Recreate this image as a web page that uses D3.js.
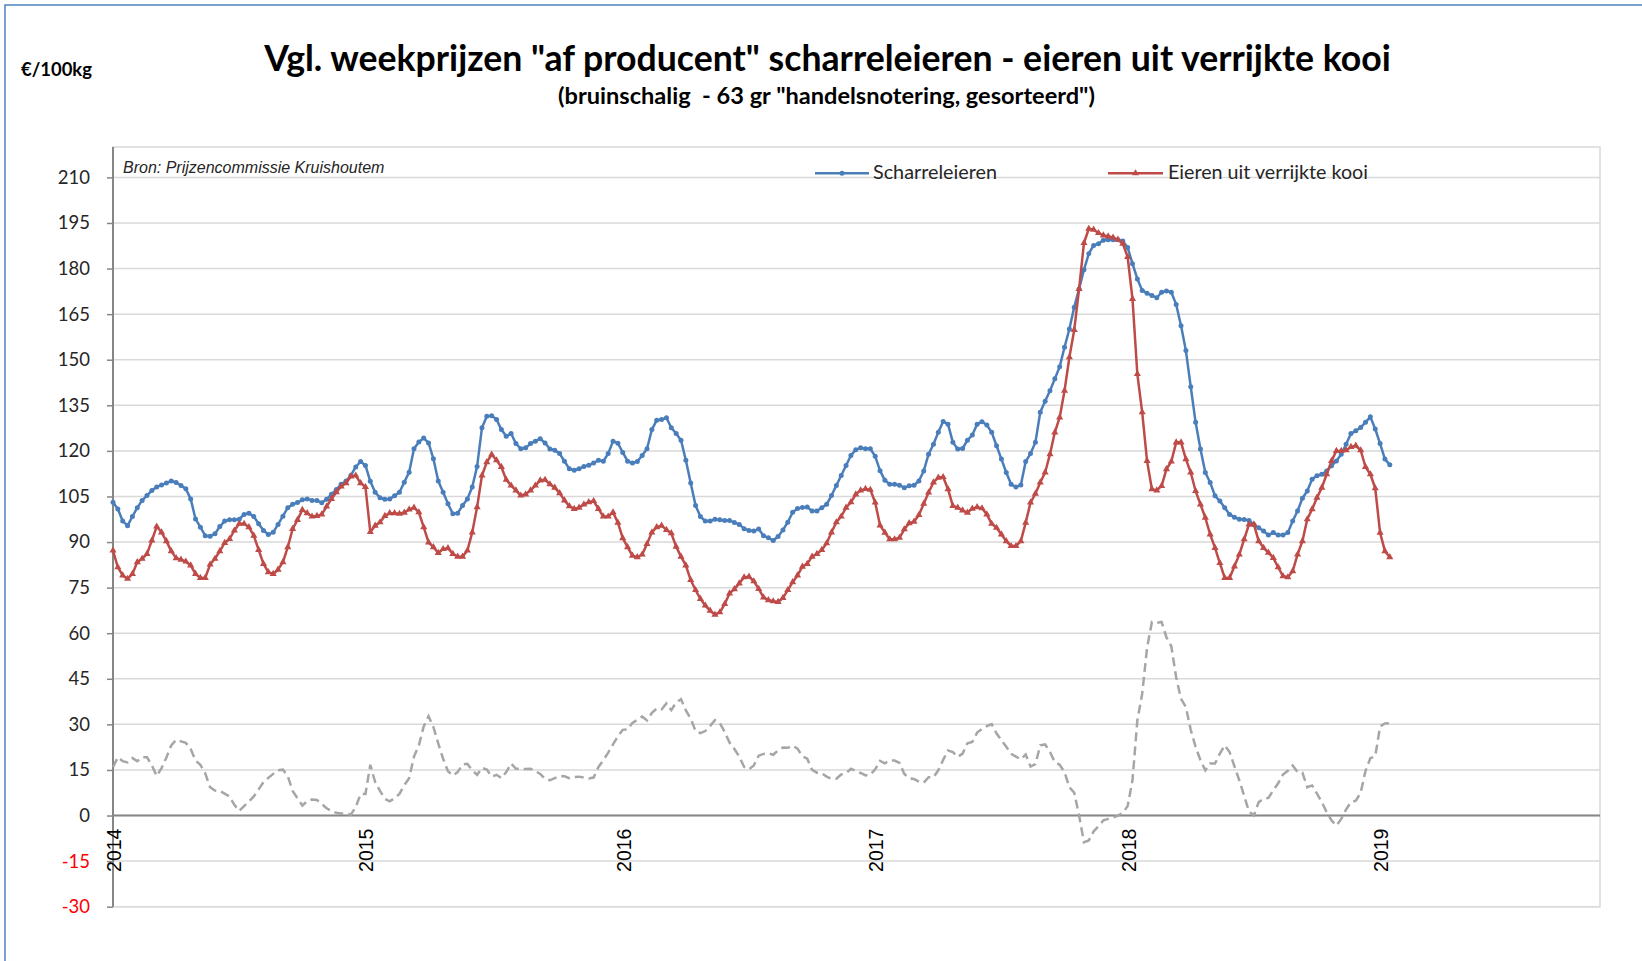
<!DOCTYPE html>
<html>
<head>
<meta charset="utf-8">
<script src="https://cdn.jsdelivr.net/npm/d3@7"></script>
<style>
  body { margin: 0; background: #fff; }
  svg { display: block; }
</style>
</head>
<body>
<svg></svg>
<script>
const width = 1642,
      height = 961

// x axis: one category per week, labelled at the first week of each year
const years = ["2014", "2015", "2016", "2017", "2018", "2019"]
const weeksPerYear = [52, 53, 52, 52, 52]
const yTicks = [-30, -15, 0, 15, 30, 45, 60, 75, 90, 105, 120, 135, 150, 165, 180, 195, 210]

// weekly prices, 2014 week 1 .. 2019 week 3 (EUR/100kg)
const scharrel = [103.1,100.9,96.9,95.4,98.4,101.3,103.7,105.3,107.0,108.1,
  108.8,109.4,110.1,109.6,108.6,107.5,104.2,97.6,94.9,92.1,
  91.9,92.7,95.1,96.9,97.3,97.3,97.5,99.1,99.5,98.4,
  96.0,93.8,92.5,93.2,95.8,98.5,101.3,102.4,103.0,103.9,
  104.2,103.7,103.7,102.9,104.1,105.7,107.3,109.0,110.1,111.9,
  114.7,116.5,115.2,110.0,106.4,104.6,104.1,104.2,105.2,106.4,
  109.7,113.0,120.7,122.9,124.2,122.6,117.4,110.1,106.4,102.6,
  99.3,99.5,102.0,104.2,108.1,114.9,127.6,131.4,131.6,130.3,
  127.0,124.8,125.7,122.4,120.7,121.0,122.4,123.2,124.0,122.6,
  120.6,120.2,119.1,116.6,114.1,113.6,114.1,114.9,115.3,116.0,
  116.9,116.6,119.1,123.2,122.5,119.5,116.6,116.0,116.5,118.5,
  120.7,127.0,130.1,130.3,130.9,127.6,125.7,123.5,116.9,109.4,
  102.0,98.4,96.9,96.9,97.5,97.3,97.1,97.1,96.4,95.8,
  94.4,93.8,93.6,94.3,92.1,91.4,90.5,91.8,94.0,96.5,
  99.8,101.0,101.4,101.5,100.2,100.2,101.3,102.4,105.3,108.6,
  111.9,115.2,118.5,120.4,121.0,120.7,120.7,118.2,113.5,110.3,
  109.0,109.0,108.7,107.9,108.5,108.7,110.1,113.4,118.9,122.2,
  126.1,129.7,128.8,122.8,120.6,120.8,123.5,125.2,128.8,129.6,
  128.5,126.1,121.7,117.3,112.9,109.0,108.1,108.8,116.5,119.1,
  122.8,132.7,136.3,139.8,143.7,147.7,154.1,160.1,167.3,173.3,
  179.6,184.9,187.6,188.2,189.3,189.5,189.5,189.5,189.1,186.9,
  181.6,176.6,172.8,171.9,171.1,170.4,172.2,172.6,172.2,168.2,
  161.2,153.0,141.1,129.4,120.6,112.9,109.6,105.2,103.5,101.3,
  99.1,98.2,97.5,97.4,97.1,95.8,94.7,93.6,92.3,93.1,
  92.3,92.3,93.1,96.9,100.2,104.4,106.8,110.7,111.8,112.3,
  113.4,115.1,116.7,118.9,122.2,125.7,126.6,127.7,129.4,131.2,
  127.2,122.4,117.3,115.4]

const kooi = [87.2,81.7,79.0,77.9,79.5,83.4,84.5,86.1,90.5,95.1,
  93.2,90.3,87.0,84.7,84.2,83.6,82.3,79.5,78.2,78.2,
  82.6,84.5,87.0,89.7,91.0,93.8,96.0,96.0,94.9,92.1,
  87.4,82.8,80.1,79.5,80.9,83.4,88.3,94.3,97.3,100.6,
  99.5,98.4,98.6,99.1,101.7,104.2,106.4,108.3,109.4,111.6,
  111.9,109.4,108.1,93.3,95.4,96.5,98.6,99.5,99.5,99.3,
  99.7,100.7,101.3,99.8,94.9,89.9,88.3,86.4,87.7,88.0,
  86.1,85.2,85.2,87.2,93.2,101.5,111.9,116.3,118.8,116.9,
  114.7,110.5,108.6,107.0,105.3,105.7,107.0,108.6,110.3,110.5,
  109.0,107.9,106.1,103.7,101.8,100.9,101.3,102.4,103.1,103.5,
  100.9,98.4,98.4,99.8,96.4,91.3,88.3,85.5,85.0,85.9,
  89.4,93.2,94.9,95.4,94.0,92.9,88.5,85.2,82.3,77.5,
  74.2,71.3,69.1,67.4,66.1,66.9,69.6,73.1,74.5,76.4,
  78.4,78.6,77.1,74.6,71.8,70.9,70.5,70.3,71.6,74.2,
  76.8,79.0,81.9,82.8,85.2,86.1,87.4,89.6,93.2,96.5,
  98.4,101.3,103.1,105.7,107.0,107.5,107.2,103.0,95.5,93.1,
  90.9,90.9,91.4,94.2,96.2,96.7,98.9,102.6,106.3,109.6,
  111.2,111.4,107.4,101.9,101.3,100.4,99.7,101.0,101.5,101.1,
  99.1,96.0,94.7,92.5,90.3,88.7,88.7,90.3,96.4,103.0,
  105.9,109.6,112.9,118.9,126.1,131.0,139.8,150.8,159.8,173.3,
  188.4,193.1,192.8,191.7,190.9,190.6,190.2,189.5,188.2,183.8,
  170.0,145.3,132.7,116.7,107.4,107.0,108.5,114.0,116.5,122.8,
  122.8,117.3,112.9,106.8,102.4,98.0,92.5,88.1,83.1,78.2,
  78.2,82.0,85.9,90.9,95.8,95.8,90.3,88.1,86.5,84.8,
  81.7,78.8,78.4,80.4,85.9,90.3,97.5,100.8,104.6,107.9,
  112.3,116.7,120.0,120.0,120.2,121.3,121.7,120.2,114.7,112.3,
  107.7,93.1,87.0,85.0]

// grey dashed line: price gap between the two
const verschil = [15.9,19.2,17.9,17.5,18.9,17.9,19.2,19.2,16.5,13.0,
  15.6,19.1,23.1,24.9,24.4,23.9,21.9,18.1,16.7,13.9,
  9.3,8.2,8.1,7.2,6.3,3.5,1.5,3.1,4.6,6.3,
  8.6,11.0,12.4,13.7,14.9,15.1,13.0,8.1,5.7,3.3,
  4.7,5.3,5.1,3.8,2.4,1.5,0.9,0.7,0.7,0.3,
  2.8,7.1,7.1,16.7,11.0,8.1,5.5,4.7,5.7,7.1,
  10.0,12.3,19.4,23.1,29.3,32.7,29.1,23.7,18.7,14.6,
  13.2,14.3,16.8,17.0,14.9,13.4,15.7,15.1,12.8,13.4,
  12.3,14.3,17.1,15.4,15.4,15.3,15.4,14.6,13.7,12.1,
  11.6,12.3,13.0,12.9,12.3,12.7,12.8,12.5,12.2,12.5,
  16.0,18.2,20.7,23.4,26.1,28.2,28.3,30.5,31.5,32.6,
  31.3,33.8,35.2,34.9,36.9,34.7,37.2,38.3,34.6,31.9,
  27.8,27.1,27.8,29.5,31.4,30.4,27.5,24.0,21.9,19.4,
  16.0,15.2,16.5,19.7,20.3,20.5,20.0,21.5,22.4,22.3,
  23.0,22.0,19.5,18.7,15.0,14.1,13.9,12.8,12.1,12.1,
  13.5,13.9,15.4,14.7,14.0,13.2,13.5,15.2,18.0,17.2,
  18.1,18.1,17.3,13.7,12.3,12.0,11.2,10.8,12.6,12.6,
  14.9,18.3,21.4,20.9,19.3,20.4,23.8,24.2,27.3,28.5,
  29.4,30.1,27.0,24.8,22.6,20.3,19.4,18.5,20.1,16.1,
  16.9,23.1,23.4,20.9,17.6,16.7,14.3,9.3,7.5,0.0,
  -8.8,-8.2,-5.2,-3.5,-1.6,-1.1,-0.7,0.0,0.9,3.1,
  11.6,31.3,40.1,55.2,63.7,63.4,63.7,58.6,55.7,45.4,
  38.4,35.7,28.2,22.6,18.2,14.9,17.1,17.1,20.4,23.1,
  20.9,16.2,11.6,6.5,1.3,0.0,4.4,5.5,5.8,8.3,
  10.6,13.5,14.7,16.5,14.3,14.1,9.3,9.9,7.2,4.4,
  1.1,-1.6,-3.3,-1.1,2.0,4.4,4.9,7.5,14.7,18.9,
  19.5,29.3,30.3,30.4]

const blue = "#4A7EBB",
      red = "#BE4B48",
      grey = "#A6A6A6",
      axisGrey = "#868686",
      gridGrey = "#D9D9D9"

const plot = {left: 113, right: 1600, top: 147, bottom: 906.7}

const svg = d3.select("svg")
  .attr("width", width)
  .attr("height", height)

// first week index of each year
const yearStart = d3.cumsum([0].concat(weeksPerYear))

const x = d3.scaleLinear()
  .domain([0, 306.3])
  .range([plot.left, plot.right])

const y = d3.scaleLinear()
  .domain([-30, 220])
  .range([plot.bottom, plot.top])

// frame of the chart
svg.append("path")
  .attr("d", `M5,${height} V5 H${width}`)
  .attr("fill", "none")
  .attr("stroke", "#4F81BD")
  .attr("stroke-width", 1.5)

// plot area border
svg.append("rect")
  .attr("x", plot.left)
  .attr("y", plot.top)
  .attr("width", plot.right - plot.left)
  .attr("height", plot.bottom - plot.top)
  .attr("fill", "none")
  .attr("stroke", gridGrey)
  .attr("stroke-width", 1.5)

// gridlines
svg.append("g")
  .selectAll("line")
  .data(yTicks)
  .join("line")
    .attr("x1", plot.left)
    .attr("x2", plot.right)
    .attr("y1", d => y(d))
    .attr("y2", d => y(d))
    .attr("stroke", gridGrey)
    .attr("stroke-width", 1.5)

// y axis
const yAxis = svg.append("g")
  .attr("transform", `translate(${plot.left},0)`)
  .call(d3.axisLeft(y).tickValues(yTicks).tickSize(6).tickPadding(17).tickFormat(d => String(d)))

yAxis.select(".domain")
  .attr("stroke", axisGrey)
  .attr("stroke-width", 2)
  .attr("d", `M0,${plot.top}V${plot.bottom}`)
yAxis.selectAll(".tick line")
  .attr("stroke", axisGrey)
  .attr("stroke-width", 1.5)
yAxis.selectAll(".tick text")
  .attr("font-family", "Lato, 'Open Sans', sans-serif")
  .attr("font-size", 18.5)
  .attr("fill", d => d < 0 ? "#FF0000" : "#262626")

// x axis crosses at 0
svg.append("line")
  .attr("x1", plot.left)
  .attr("x2", plot.right)
  .attr("y1", y(0))
  .attr("y2", y(0))
  .attr("stroke", axisGrey)
  .attr("stroke-width", 2)

svg.append("g")
  .selectAll("text")
  .data(years)
  .join("text")
    .attr("transform", (d, i) => `translate(${x(yearStart[i]) + 8},${y(0) + 13}) rotate(-90)`)
    .attr("text-anchor", "end")
    .attr("font-family", "'Liberation Sans', Arial, sans-serif")
    .attr("font-size", 19.5)
    .attr("fill", "#000")
    .text(d => d)

// series
const line = d3.line()
  .x((d, i) => x(i))
  .y(d => y(d))

svg.append("path")
  .datum(verschil)
  .attr("d", line)
  .attr("fill", "none")
  .attr("stroke", grey)
  .attr("stroke-width", 2.5)
  .attr("stroke-dasharray", "9,5")

svg.append("path")
  .datum(scharrel)
  .attr("d", line)
  .attr("fill", "none")
  .attr("stroke", blue)
  .attr("stroke-width", 2.5)
  .attr("stroke-linejoin", "round")

svg.append("g")
  .selectAll("circle")
  .data(scharrel)
  .join("circle")
    .attr("cx", (d, i) => x(i))
    .attr("cy", d => y(d))
    .attr("r", 2.5)
    .attr("fill", blue)

svg.append("path")
  .datum(kooi)
  .attr("d", line)
  .attr("fill", "none")
  .attr("stroke", red)
  .attr("stroke-width", 2.5)
  .attr("stroke-linejoin", "round")

const tri = d3.symbol(d3.symbolTriangle, 22)
svg.append("g")
  .selectAll("path")
  .data(kooi)
  .join("path")
    .attr("d", tri)
    .attr("transform", (d, i) => `translate(${x(i)},${y(d)})`)
    .attr("fill", red)

// texts
function fitText (sel, target) {
  const w = sel.node().getComputedTextLength()
  sel.attr("font-size", parseFloat(sel.attr("font-size")) * target / w)
  return sel
}

fitText(svg.append("text")
  .attr("x", 827.5)
  .attr("y", 71)
  .attr("text-anchor", "middle")
  .attr("font-family", "Lato, 'Open Sans', sans-serif")
  .attr("font-weight", "bold")
  .attr("font-size", 34)
  .attr("fill", "#000")
  .text('Vgl. weekprijzen "af producent" scharreleieren - eieren uit verrijkte kooi'), 1127)

fitText(svg.append("text")
  .attr("x", 826.5)
  .attr("y", 104)
  .attr("text-anchor", "middle")
  .attr("font-family", "Lato, 'Open Sans', sans-serif")
  .attr("font-weight", "bold")
  .attr("font-size", 20)
  .attr("fill", "#000")
  .attr("xml:space", "preserve")
  .text('(bruinschalig  - 63 gr "handelsnotering, gesorteerd")'), 537)

fitText(svg.append("text")
  .attr("x", 21)
  .attr("y", 76)
  .attr("font-family", "Lato, 'Open Sans', sans-serif")
  .attr("font-weight", "bold")
  .attr("font-size", 16)
  .attr("fill", "#000")
  .text("€/100kg"), 71)

svg.append("text")
  .attr("x", 123)
  .attr("y", 172.5)
  .attr("font-family", "'Liberation Sans', Arial, sans-serif")
  .attr("font-style", "italic")
  .attr("font-size", 16)
  .attr("fill", "#262626")
  .text("Bron: Prijzencommissie Kruishoutem")

// legend
const legend = [
  {label: "Scharreleieren", color: blue, x0: 815, x1: 869, tx: 873, tw: 124, marker: "circle"},
  {label: "Eieren uit verrijkte kooi", color: red, x0: 1108, x1: 1163, tx: 1168, tw: 200, marker: "tri"}
]
const ly = 173.3

const items = svg.append("g")
  .selectAll("g")
  .data(legend)
  .join("g")

items.append("line")
  .attr("x1", d => d.x0)
  .attr("x2", d => d.x1)
  .attr("y1", ly)
  .attr("y2", ly)
  .attr("stroke", d => d.color)
  .attr("stroke-width", 2.5)

items.append("path")
  .attr("d", d => d.marker == "circle" ? d3.symbol(d3.symbolCircle, 20)() : tri())
  .attr("transform", d => `translate(${(d.x0 + d.x1) / 2},${ly})`)
  .attr("fill", d => d.color)

items.append("text")
  .attr("x", d => d.tx)
  .attr("y", ly + 6)
  .attr("font-family", "Lato, 'Open Sans', sans-serif")
  .attr("font-size", 18)
  .attr("fill", "#262626")
  .text(d => d.label)
  .each(function (d) { fitText(d3.select(this), d.tw) })
</script>
</body>
</html>
